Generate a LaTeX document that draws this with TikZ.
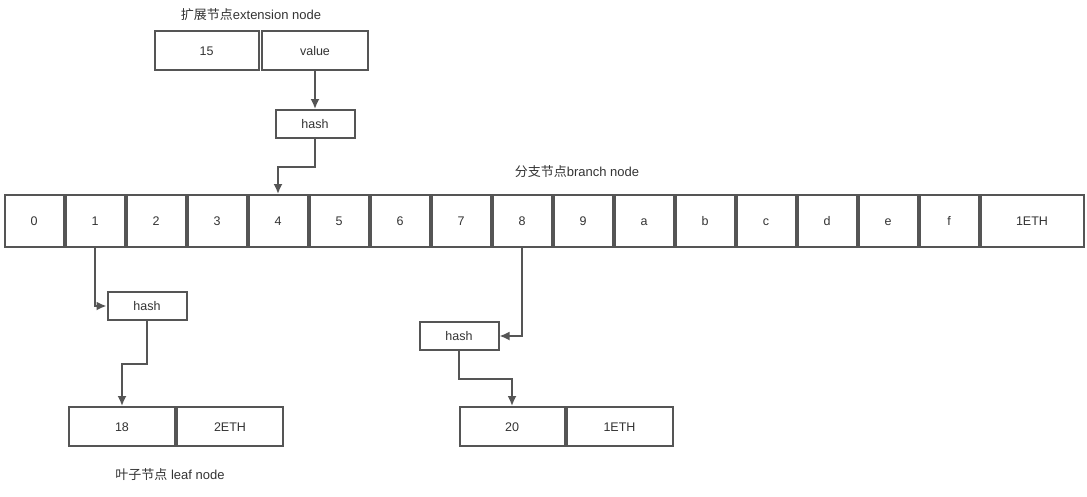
\documentclass[tikz,border=0pt]{standalone}
\usepackage{fontspec}
\setmainfont{Liberation Sans}
\newfontfamily\cjk{Noto Sans CJK SC}
\usetikzlibrary{arrows.meta}
\definecolor{linec}{HTML}{555555}
\definecolor{textc}{HTML}{333333}
\begin{document}
\begin{tikzpicture}[x=1pt,y=-1pt,
  box/.style={draw=linec,line width=2pt,fill=white,inner sep=0pt,text=textc,
    font=\fontsize{12.5}{14}\selectfont,text height=9pt,text depth=0pt},
  cell/.style={box,minimum width=59pt,minimum height=52pt},
  arr/.style={draw=linec,line width=1.8pt,-{Latex[length=10pt,width=9pt]}},
  title/.style={text=textc,font=\fontsize{13}{15}\selectfont,inner sep=0pt}]
\useasboundingbox (0,0) rectangle (1087,496);
% extension node
\node[title] (etitle) at (251,15) {{\cjk 扩展节点}extension node};
\node[box,minimum width=104pt,minimum height=39pt] (e15) at (206.5,50.5) {15};
\node[box,minimum width=106pt,minimum height=39pt] (ev) at (315,50.5) {value};
\node[box,minimum width=79pt,minimum height=28pt] (eh) at (315,124) {hash};
% branch node
\node[title] (btitle) at (577,172) {{\cjk 分支节点}branch node};
\foreach \i/\t in {0/0,1/1,2/2,3/3,4/4,5/5,6/6,7/7,8/8,9/9,10/a,11/b,12/c,13/d,14/e,15/f}{
  \node[cell] (c\i) at ({34+61*\i},221) {\t};
}
\node[box,minimum width=103pt,minimum height=52pt] (c16) at (1032,221) {1ETH};
% left leaf
\node[box,minimum width=79pt,minimum height=28pt] (lh) at (147,306) {hash};
\node[box,minimum width=106pt,minimum height=39pt] (l18) at (122,426.5) {18};
\node[box,minimum width=106pt,minimum height=39pt] (l2eth) at (230,426.5) {2ETH};
\node[title] (ltitle) at (170,475) {{\cjk 叶子节点} leaf node};
% right leaf
\node[box,minimum width=79pt,minimum height=28pt] (rh) at (459,336) {hash};
\node[box,minimum width=105pt,minimum height=39pt] (l20) at (512,426.5) {20};
\node[box,minimum width=106pt,minimum height=39pt] (l1eth) at (619.5,426.5) {1ETH};
% connectors
\draw[arr] (ev.south) -- (eh.north);
\draw[arr] (eh.south) -- ++(0,28) -| (c4.north);
\draw[arr] (c1.south) |- (lh.west);
\draw[arr] (lh.south) -- ++(0,43) -| (l18.north);
\draw[arr] (c8.south) |- (rh.east);
\draw[arr] (rh.south) -- ++(0,28) -| (l20.north);
\end{tikzpicture}
\end{document}
